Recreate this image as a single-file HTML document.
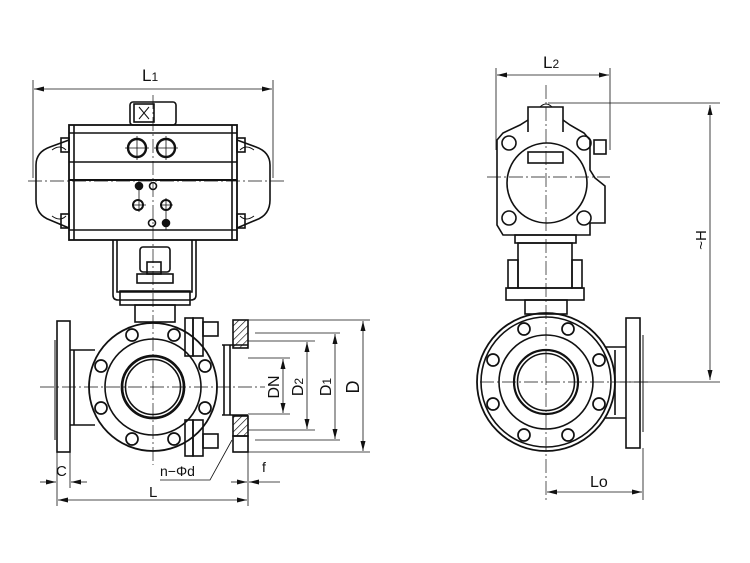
<!DOCTYPE html>
<html><head><meta charset="utf-8"><style>
html,body{margin:0;padding:0;background:#fff;}
svg{display:block}
text{font-family:"Liberation Sans",sans-serif;fill:#111}
</style></head><body>
<svg width="750" height="563" viewBox="0 0 750 563" xmlns="http://www.w3.org/2000/svg">
<defs>
<marker id="a" markerWidth="10" markerHeight="6" refX="10" refY="3" orient="auto-start-reverse" markerUnits="userSpaceOnUse"><path d="M0,0.5 L10,3 L0,5.5" fill="#111"/></marker>
<pattern id="h" width="5" height="5" patternUnits="userSpaceOnUse" patternTransform="rotate(45)"><line x1="0" y1="0" x2="0" y2="5" stroke="#111" stroke-width="1.3"/></pattern>
</defs>
<g fill="none" stroke="#111" stroke-width="1.6">
<line x1="33" y1="80" x2="33" y2="178" stroke-width="0.8"/>
<line x1="273" y1="80" x2="273" y2="178" stroke-width="0.8"/>
<line x1="34" y1="89" x2="272" y2="89" stroke-width="0.8" marker-start="url(#a)" marker-end="url(#a)"/>
<rect x="130" y="102" width="46" height="23" rx="3"/>
<rect x="134" y="104" width="20" height="18"/>
<path d="M139,107 l10,12 M149,107 l-10,12" stroke-width="1"/>
<rect x="69" y="125" width="168" height="115" stroke-width="1.8"/>
<line x1="69" y1="133" x2="237" y2="133"/>
<line x1="69" y1="162" x2="237" y2="162"/>
<line x1="69" y1="180" x2="237" y2="180" stroke-width="2"/>
<line x1="69" y1="230" x2="237" y2="230"/>
<line x1="74" y1="125" x2="74" y2="240"/><line x1="232" y1="125" x2="232" y2="240"/>
<path d="M69,140 L50,147 Q36,152 36,165 L36,200 Q36,215 50,220 L69,228"/>
<path d="M237,140 L256,147 Q270,152 270,165 L270,200 Q270,215 256,220 L237,228"/>
<rect x="61" y="138" width="8" height="14"/><rect x="61" y="214" width="8" height="14"/>
<rect x="237" y="138" width="8" height="14"/><rect x="237" y="214" width="8" height="14"/>
<path d="M52,150 q8,-6 14,0 M52,216 q8,6 14,0 M254,150 q-8,-6 -14,0 M254,216 q-8,6 -14,0" stroke-width="1"/>
<circle cx="137" cy="148" r="9" stroke-width="2.4"/><circle cx="166" cy="148" r="9" stroke-width="2.4"/>
<path d="M125,148h24M137,136v24M154,148h24M166,136v24" stroke-width="0.8"/>
<circle cx="139" cy="186" r="3.5" fill="#111"/><circle cx="153" cy="186" r="3.5"/>
<circle cx="138" cy="205" r="5" stroke-width="2"/><circle cx="166" cy="205" r="5" stroke-width="2"/>
<circle cx="152" cy="223" r="3.5"/><circle cx="166" cy="223" r="3.5" fill="#111"/>
<path d="M139,182v30M166,198v32M132,205h14M160,205h13" stroke-width="0.8"/>
<path d="M113,240 L113,295 Q113,300 118,300 L191,300 Q196,300 196,295 L196,240"/>
<path d="M117,240 L117,292 L192,292 L192,240"/>
<rect x="140" y="247" width="30" height="25" rx="3"/>
<rect x="147" y="262" width="14" height="12"/>
<rect x="137" y="274" width="36" height="9"/>
<rect x="120" y="291" width="70" height="14"/>
<rect x="135" y="305" width="40" height="17"/>
<circle cx="153" cy="387" r="64" stroke-width="1.8"/>
<circle cx="153" cy="387" r="48"/>
<circle cx="153" cy="387" r="31" stroke-width="2.7"/>
<circle cx="153" cy="387" r="27.5"/>
<g stroke-width="1.7">
<circle cx="205" cy="366" r="6"/><circle cx="205" cy="408" r="6"/><circle cx="101" cy="366" r="6"/><circle cx="101" cy="408" r="6"/>
<circle cx="174" cy="335" r="6"/><circle cx="132" cy="335" r="6"/><circle cx="174" cy="439" r="6"/><circle cx="132" cy="439" r="6"/>
</g>
<rect x="57" y="321" width="13" height="131"/>
<line x1="55" y1="340" x2="55" y2="440" stroke-width="1"/>
<path d="M70,350 L95,350 M70,425 L95,425 M74,350 v75"/>
<rect x="185" y="318" width="8" height="38"/><rect x="193" y="318" width="10" height="38"/>
<rect x="203" y="322" width="15" height="14"/>
<rect x="185" y="420" width="8" height="36"/><rect x="193" y="420" width="10" height="36"/>
<rect x="203" y="434" width="15" height="14"/>
<path d="M222,345 L248,345 M222,415 L248,415 M224,345 v70 M230,345 v70"/>
<rect x="233" y="320" width="15" height="28" fill="url(#h)"/>
<rect x="233" y="416" width="15" height="20" fill="url(#h)"/>
<rect x="233" y="436" width="15" height="16"/>
<g stroke-width="0.8">
<line x1="248" y1="320" x2="370" y2="320"/><line x1="248" y1="452" x2="370" y2="452"/>
<line x1="255" y1="333" x2="340" y2="333"/><line x1="255" y1="440" x2="340" y2="440"/>
<line x1="248" y1="341" x2="315" y2="341"/><line x1="248" y1="430" x2="315" y2="430"/>
<line x1="248" y1="358" x2="290" y2="358"/><line x1="248" y1="414" x2="290" y2="414"/>
<line x1="363" y1="321" x2="363" y2="451" marker-start="url(#a)" marker-end="url(#a)"/>
<line x1="335" y1="334" x2="335" y2="439" marker-start="url(#a)" marker-end="url(#a)"/>
<line x1="307" y1="342" x2="307" y2="429" marker-start="url(#a)" marker-end="url(#a)"/>
<line x1="283" y1="359" x2="283" y2="413" marker-start="url(#a)" marker-end="url(#a)"/>
<line x1="57" y1="452" x2="57" y2="506"/><line x1="70" y1="452" x2="70" y2="488"/>
<line x1="248" y1="452" x2="248" y2="506"/>
<line x1="40" y1="482" x2="56" y2="482" marker-end="url(#a)"/><line x1="87" y1="482" x2="71" y2="482" marker-end="url(#a)"/>
<line x1="58" y1="500" x2="247" y2="500" marker-start="url(#a)" marker-end="url(#a)"/>
<line x1="231" y1="482" x2="247" y2="482" marker-end="url(#a)"/><line x1="280" y1="482" x2="249" y2="482" marker-end="url(#a)"/>
<path d="M160,480 L210,480 L232,440"/>
</g>
<g stroke-width="0.7" stroke-dasharray="14,3,2,3">
<line x1="153" y1="95" x2="153" y2="465"/>
<line x1="40" y1="387" x2="265" y2="387"/>
<line x1="28" y1="181" x2="285" y2="181"/>
<line x1="546" y1="85" x2="546" y2="500"/>
<line x1="480" y1="382" x2="650" y2="382"/>
<line x1="487" y1="177" x2="610" y2="177"/>
</g>
<line x1="496" y1="68" x2="496" y2="150" stroke-width="0.8"/>
<line x1="610" y1="68" x2="610" y2="150" stroke-width="0.8"/>
<line x1="497" y1="75" x2="609" y2="75" stroke-width="0.8" marker-start="url(#a)" marker-end="url(#a)"/>
<path d="M528,132 L528,107 L563,107 L563,132" />
<path d="M540,107 q6,-6 12,0" stroke-width="1"/>
<path d="M528,120 L520,125 L503,133 L497,140 L497,225 L503,235 L590,235 L590,223 L605,223 L605,186 L595,178 L590,170 L590,140 L584,133 L570,125 L563,120"/>
<circle cx="547" cy="183" r="40"/>
<rect x="528" y="152" width="35" height="11"/>
<circle cx="509" cy="143" r="7"/><circle cx="584" cy="143" r="7"/><circle cx="509" cy="218" r="7"/><circle cx="584" cy="218" r="7"/>
<rect x="594" y="140" width="12" height="14"/>
<rect x="515" y="235" width="61" height="8"/>
<rect x="518" y="243" width="54" height="45"/>
<rect x="508" y="260" width="10" height="28"/><rect x="572" y="260" width="10" height="28"/>
<rect x="506" y="288" width="78" height="12"/>
<rect x="525" y="300" width="42" height="14"/>
<circle cx="546" cy="382" r="69" stroke-width="1.8"/>
<circle cx="546" cy="382" r="65"/>
<circle cx="546" cy="382" r="47"/>
<circle cx="546" cy="382" r="32" stroke-width="2.2"/>
<circle cx="546" cy="382" r="28.5"/>
<g stroke-width="1.7">
<circle cx="599" cy="360" r="6"/><circle cx="599" cy="404" r="6"/><circle cx="493" cy="360" r="6"/><circle cx="493" cy="404" r="6"/>
<circle cx="568" cy="329" r="6"/><circle cx="524" cy="329" r="6"/><circle cx="568" cy="435" r="6"/><circle cx="524" cy="435" r="6"/>
</g>
<path d="M605,347 L626,347 M605,418 L626,418 M615,350 v65"/>
<rect x="626" y="318" width="14" height="130"/>
<line x1="643" y1="335" x2="643" y2="432" stroke-width="1"/>
<g stroke-width="0.8">
<line x1="548" y1="103" x2="720" y2="103"/>
<line x1="620" y1="382" x2="720" y2="382"/>
<line x1="710" y1="105" x2="710" y2="380" marker-start="url(#a)" marker-end="url(#a)"/>
<line x1="643" y1="448" x2="643" y2="500"/>
<line x1="547" y1="492" x2="642" y2="492" marker-start="url(#a)" marker-end="url(#a)"/>
</g>
</g>
<text x="142" y="81" font-size="17">L<tspan font-size="12">1</tspan></text>
<text x="543" y="68" font-size="17">L<tspan font-size="12">2</tspan></text>
<text x="56" y="476" font-size="15">C</text>
<text x="149" y="497" font-size="15">L</text>
<text x="160" y="476" font-size="14">n−Φd</text>
<text x="262" y="472" font-size="14">f</text>
<text x="590" y="487" font-size="16">Lo</text>
<text transform="translate(279,387) rotate(-90)" text-anchor="middle" font-size="16">DN</text>
<text transform="translate(303,387) rotate(-90)" text-anchor="middle" font-size="16">D<tspan font-size="12">2</tspan></text>
<text transform="translate(331,387) rotate(-90)" text-anchor="middle" font-size="16">D<tspan font-size="12">1</tspan></text>
<text transform="translate(359,387) rotate(-90)" text-anchor="middle" font-size="18">D</text>
<text transform="translate(706,240) rotate(-90)" text-anchor="middle" font-size="15">~H</text>
</svg>
</body></html>
